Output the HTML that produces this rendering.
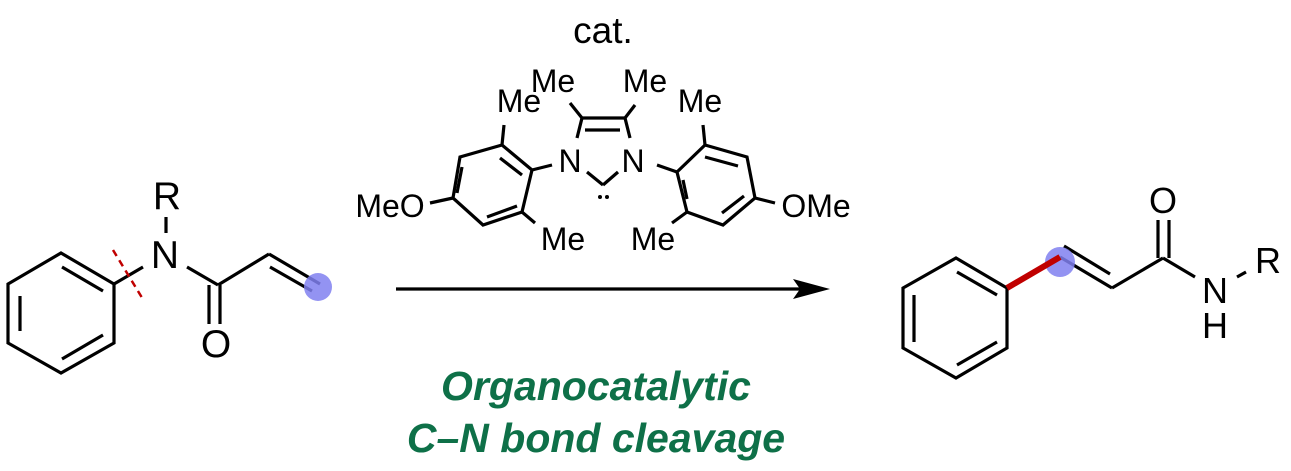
<!DOCTYPE html>
<html><head><meta charset="utf-8"><style>
html,body{margin:0;padding:0;background:#fff;width:1291px;height:471px;overflow:hidden}
svg{display:block}
text{font-family:"Liberation Sans",Arial,sans-serif}
</style></head><body>
<svg width="1291" height="471" viewBox="0 0 1291 471" xmlns="http://www.w3.org/2000/svg">
<g stroke="#000" stroke-width="3.2" fill="none" stroke-linecap="butt">
<polygon points="61,253 114,284 114,343 61,373 8,343 8,284"/>
<line x1="62" y1="267" x2="103" y2="291"/>
<line x1="20" y1="296" x2="20" y2="331"/>
<line x1="62" y1="359" x2="103" y2="335"/>
<line x1="114" y1="284" x2="143" y2="267"/>
<line x1="166" y1="217" x2="166" y2="233"/>
<line x1="187" y1="267" x2="218" y2="285"/>
<line x1="209" y1="285" x2="209" y2="324"/>
<line x1="220" y1="285" x2="220" y2="324"/>
<line x1="218" y1="285" x2="269" y2="254"/>
<line x1="269" y1="254" x2="320" y2="284"/>
<line x1="270" y1="267" x2="312" y2="291"/>
<polygon points="502,145 532,170 522,212 483,225 453,198 460,157"/>
<line x1="500" y1="158" x2="522" y2="175"/>
<line x1="462" y1="167" x2="457" y2="193"/>
<line x1="487" y1="217" x2="517" y2="206"/>
<line x1="502" y1="145" x2="504" y2="125"/>
<line x1="453" y1="198" x2="430" y2="203"/>
<line x1="522" y1="212" x2="535" y2="223"/>
<line x1="532" y1="170" x2="552" y2="165"/>
<line x1="577" y1="138" x2="582" y2="118"/>
<line x1="582" y1="118" x2="625" y2="118"/>
<line x1="585" y1="130" x2="620" y2="130"/>
<line x1="625" y1="118" x2="630" y2="138"/>
<line x1="587" y1="172" x2="603" y2="185"/>
<line x1="603" y1="185" x2="618" y2="172"/>
<line x1="582" y1="118" x2="570" y2="103"/>
<line x1="625" y1="118" x2="635" y2="105"/>
<line x1="657" y1="165" x2="677" y2="172"/>
<polygon points="677,172 705,145 747,157 755,198 723,225 687,212"/>
<line x1="705" y1="157" x2="738" y2="166"/>
<line x1="744" y1="196" x2="722" y2="213"/>
<line x1="687" y1="199" x2="683" y2="180"/>
<line x1="705" y1="145" x2="703" y2="125"/>
<line x1="755" y1="198" x2="775" y2="203"/>
<line x1="687" y1="212" x2="672" y2="223"/>
<line x1="396" y1="289" x2="800" y2="289"/>
<polygon points="956,258 1007,288 1007,348 956,378 903,348 903,288"/>
<line x1="957" y1="272" x2="997" y2="295"/>
<line x1="914" y1="295" x2="914" y2="342"/>
<line x1="957" y1="365" x2="997" y2="342"/>
<line x1="1060" y1="257" x2="1112" y2="288"/>
<line x1="1064" y1="246" x2="1110" y2="274"/>
<line x1="1112" y1="288" x2="1163" y2="258"/>
<line x1="1158" y1="220" x2="1158" y2="258"/>
<line x1="1169" y1="220" x2="1169" y2="258"/>
<line x1="1163" y1="258" x2="1195" y2="277"/>
<line x1="1237" y1="277" x2="1246" y2="272"/>
</g>
<line x1="113" y1="250" x2="144" y2="301" stroke="#c00000" stroke-width="2.5" stroke-dasharray="7,5"/>
<circle cx="318" cy="287" r="14" fill="#8080f0" fill-opacity="0.85"/>
<circle cx="1060" cy="262" r="15" fill="#8080f0" fill-opacity="0.85"/>
<line x1="1007" y1="288" x2="1060" y2="257" stroke="#c00000" stroke-width="6"/>
<polygon points="830,289 793,279 800,289 793,299" fill="#000"/>
<circle cx="600" cy="197" r="2" fill="#000"/>
<circle cx="607" cy="197" r="2" fill="#000"/>
<g font-size="39" text-anchor="middle" fill="#000">
<text x="165" y="268">N</text>
<text x="167" y="209">R</text>
<text x="216" y="357">O</text>
</g>
<g font-size="36" text-anchor="middle" fill="#000">
<text x="1163" y="213">O</text>
<text x="1215" y="303">N</text>
<text x="1215" y="338">H</text>
<text x="1268" y="273">R</text>
</g>
<text x="603" y="43" font-size="37" text-anchor="middle">cat.</text>
<g font-size="32" fill="#000" text-anchor="middle">
<text x="519" y="112">Me</text>
<text x="390" y="217">MeO</text>
<text x="563" y="250">Me</text>
<text x="570" y="172">N</text>
<text x="633" y="172">N</text>
<text x="553" y="92">Me</text>
<text x="645" y="92">Me</text>
<text x="700" y="112">Me</text>
<text x="816" y="217">OMe</text>
<text x="653" y="250">Me</text>
</g>
<g font-size="41" font-weight="bold" font-style="italic" fill="#0e7048" text-anchor="middle">
<text x="596" y="400">Organocatalytic</text>
<text x="596" y="452">C–N bond cleavage</text>
</g>
</svg>
</body></html>
